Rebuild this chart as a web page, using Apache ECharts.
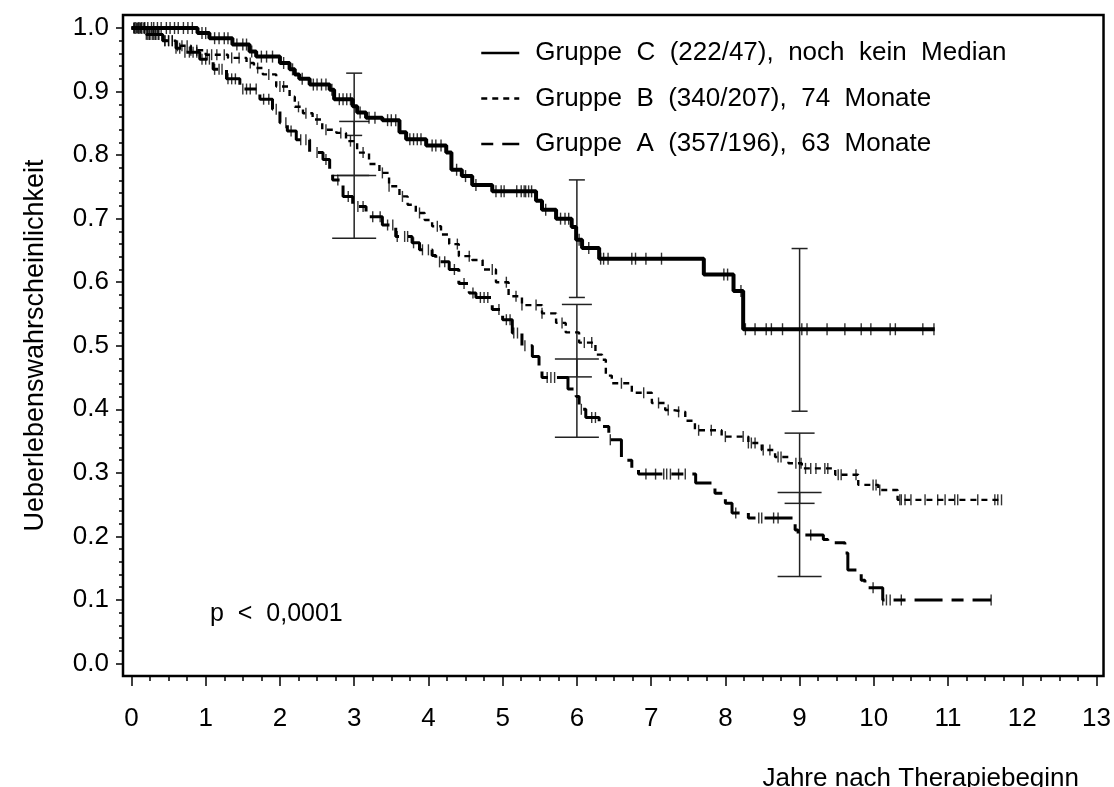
<!DOCTYPE html>
<html>
<head>
<meta charset="utf-8">
<script src="https://cdn.jsdelivr.net/npm/echarts@6/dist/echarts.min.js"></script>
<style>
  html, body { margin: 0; padding: 0; background: #fff; }
  #chart { width: 1114px; height: 787px; }
</style>
</head>
<body>
<div id="chart"></div>
<script>
// Kaplan-Meier Schätzer
const nameC = 'Gruppe C (222/47), noch kein Median';
const nameB = 'Gruppe B (340/207), 74 Monate';
const nameA = 'Gruppe A (357/196), 63 Monate';

const timeC = [0, 0.89, 1.05, 1.36, 1.59, 1.68, 2.0, 2.13, 2.2, 2.26, 2.4, 2.67, 2.73, 2.98, 3.04, 3.16, 3.38,
  3.61, 3.7, 3.97, 4.24, 4.31, 4.45, 4.59, 4.86, 5.45, 5.53, 5.72, 5.93, 5.99, 6.07, 6.3, 7.71, 8.11, 8.24, 10.82];
const survC = [1.0, 0.992, 0.984, 0.974, 0.963, 0.955, 0.945, 0.935, 0.927, 0.92, 0.911, 0.903, 0.888, 0.877, 0.867, 0.859, 0.855,
  0.836, 0.825, 0.815, 0.804, 0.777, 0.767, 0.753, 0.743, 0.728, 0.714, 0.7, 0.687, 0.667, 0.654, 0.637, 0.612, 0.586, 0.526, 0.526];

const timeB = [0, 0.2, 0.42, 0.6, 0.8, 1.0, 1.3, 1.55, 1.65, 1.77, 1.95, 2.13, 2.2, 2.31, 2.44, 2.57, 2.76, 2.89, 3.04, 3.2,
  3.34, 3.47, 3.61, 3.72, 3.83, 3.95, 4.05, 4.17, 4.28, 4.41, 4.59, 4.73, 4.91, 5.08, 5.26, 5.53, 5.72, 5.85, 6.03, 6.25,
  6.34, 6.39, 6.47, 6.74, 7.01, 7.19, 7.28, 7.46, 7.59, 7.95, 8.31, 8.49, 8.67, 8.85, 9.03, 9.48, 9.79, 10.06, 10.32, 11.72];
const survB = [1.0, 0.99, 0.98, 0.972, 0.965, 0.958, 0.953, 0.945, 0.937, 0.927, 0.908, 0.892, 0.876, 0.866, 0.856, 0.84,
  0.835, 0.822, 0.804, 0.786, 0.772, 0.751, 0.735, 0.722, 0.709, 0.698, 0.688, 0.675, 0.66, 0.641, 0.635, 0.62, 0.6, 0.578,
  0.564, 0.551, 0.536, 0.521, 0.505, 0.486, 0.478, 0.453, 0.441, 0.426, 0.41, 0.399, 0.396, 0.382, 0.367, 0.357, 0.347,
  0.336, 0.325, 0.315, 0.307, 0.297, 0.281, 0.273, 0.2575, 0.2575];

const timeA = [0, 0.2, 0.42, 0.6, 0.7, 0.92, 1.1, 1.28, 1.46, 1.73, 1.9, 2.0, 2.1, 2.22, 2.4, 2.58, 2.67, 2.71, 2.85, 2.98,
  3.16, 3.38, 3.56, 3.78, 3.88, 4.05, 4.1, 4.28, 4.41, 4.55, 4.64, 4.86, 5.0, 5.13, 5.26, 5.4, 5.49, 5.53, 5.88, 5.99,
  6.03, 6.12, 6.3, 6.43, 6.6, 6.74, 6.83, 7.6, 7.86, 8.0, 8.09, 8.31, 8.94, 8.98, 9.32, 9.38, 9.61, 9.65, 9.83, 9.88,
  10.12, 11.58];
const survA = [1.0, 0.99, 0.98, 0.968, 0.962, 0.951, 0.935, 0.92, 0.904, 0.888, 0.872, 0.851, 0.838, 0.824, 0.804, 0.793,
  0.772, 0.761, 0.735, 0.719, 0.703, 0.69, 0.672, 0.662, 0.651, 0.642, 0.632, 0.62, 0.598, 0.583, 0.576, 0.557, 0.541,
  0.52, 0.5, 0.483, 0.467, 0.45, 0.432, 0.42, 0.4, 0.387, 0.373, 0.352, 0.32, 0.305, 0.298, 0.284, 0.268, 0.252, 0.237,
  0.229, 0.21, 0.202, 0.195, 0.19, 0.174, 0.147, 0.131, 0.119, 0.1, 0.1];

// zensierte Beobachtungen (Zeitpunkte)
const censC = [0.05, 0.1, 0.14, 0.18, 0.22, 0.27, 0.3, 0.35, 0.4, 0.47, 0.52, 0.58, 0.63, 0.7, 0.76, 0.82, 0.95, 1.0,
  1.12, 1.18, 1.25, 1.3, 1.42, 1.5, 1.55, 1.62, 1.75, 1.82, 1.9, 2.05, 2.17, 2.3, 2.45, 2.5, 2.56, 2.62, 2.7, 2.8, 2.85,
  2.9, 2.95, 3.08, 3.2, 3.28, 3.45, 3.5, 3.56, 3.75, 3.8, 3.85, 3.9, 4.05, 4.1, 4.17, 4.38, 4.5, 4.64, 4.91, 4.98, 5.02,
  5.19, 5.25, 5.29, 5.31, 5.35, 5.39, 5.58, 5.78, 5.84, 5.89, 6.03, 6.16, 6.32, 6.36, 6.42, 6.74, 6.79, 6.93, 7.14, 7.98,
  8.03, 8.21, 8.27, 8.4, 8.55, 8.62, 8.77, 9.03, 9.1, 9.37, 9.61, 9.83, 9.96, 10.22, 10.29, 10.66, 10.81];
const censB = [0.04, 0.08, 0.12, 0.17, 0.22, 0.25, 0.3, 0.33, 0.37, 0.45, 0.5, 0.55, 0.62, 0.68, 0.75, 0.8, 0.88, 1.02,
  1.08, 1.15, 1.25, 1.35, 1.45, 1.6, 1.7, 1.85, 2.0, 2.05, 2.25, 2.35, 2.5, 2.62, 2.82, 2.95, 3.12, 3.38, 3.47, 3.65, 3.88,
  4.12, 4.39, 4.55, 4.86, 5.05, 5.18, 5.26, 5.45, 5.53, 5.8, 6.1, 6.2, 6.6, 6.9, 7.1, 7.23, 7.37, 7.64, 7.81, 8.0, 8.24,
  8.31, 8.35, 8.4, 8.51, 8.6, 8.71, 8.75, 8.95, 9.02, 9.08, 9.15, 9.22, 9.34, 9.38, 9.52, 9.56, 9.76, 9.99, 10.03, 10.08,
  10.35, 10.37, 10.42, 10.5, 10.69, 10.86, 10.96, 11.09, 11.13, 11.4, 11.63, 11.67, 11.72];
const censA = [0.03, 0.07, 0.1, 0.13, 0.17, 0.2, 0.24, 0.28, 0.32, 0.36, 0.45, 0.5, 0.55, 0.6, 0.65, 0.72, 0.78, 0.83,
  0.88, 0.95, 1.0, 1.05, 1.12, 1.18, 1.22, 1.3, 1.35, 1.4, 1.5, 1.55, 1.6, 1.68, 1.78, 1.85, 1.95, 2.08, 2.15, 2.28, 2.35,
  2.5, 2.62, 2.78, 2.92, 3.05, 3.12, 3.25, 3.35, 3.45, 3.52, 3.58, 3.68, 3.72, 3.8, 3.92, 4.0, 4.15, 4.22, 4.35, 4.48,
  4.6, 4.7, 4.75, 4.8, 4.95, 5.05, 5.1, 5.15, 5.2, 5.3, 5.6, 5.65, 5.7, 6.06, 6.2, 6.25, 6.45, 6.93, 7.06, 7.17, 7.21,
  7.26, 7.37, 7.46, 8.14, 8.45, 8.49, 8.65, 8.71, 9.15, 9.99, 10.12, 10.17, 10.22, 10.37, 11.58];

// 95%-Konfidenzintervalle nach 3, 6 und 9 Jahren: [Jahr, unten, oben]
const ciC = [[3, 0.831, 0.929], [6, 0.576, 0.761], [9, 0.397, 0.653]];
const ciB = [[3, 0.768, 0.853], [6, 0.451, 0.565], [9, 0.252, 0.3625]];
const ciA = [[3, 0.669, 0.768], [6, 0.356, 0.479], [9, 0.137, 0.269]];

// Achsen
const xRange = [-0.114, 13.094];
const yRange = [-0.0197, 1.0205];
const xMajor = [0, 1, 2, 3, 4, 5, 6, 7, 8, 9, 10, 11, 12, 13];
const yMajor = [0, 0.1, 0.2, 0.3, 0.4, 0.5, 0.6, 0.7, 0.8, 0.9, 1.0];
const xMinor = [];
for (let i = 0; i < 13 * 4; i++) if (i % 4) xMinor.push(i / 4);
const yMinor = [];
for (let i = 0; i < 50; i++) if (i % 5) yMinor.push(i / 50);

const pText = 'p < 0,0001';
const xTitle = 'Jahre nach Therapiebeginn';
const yTitle = 'Ueberlebenswahrscheinlichkeit';

const FONT = '"Liberation Sans", Arial, sans-serif';
const wide = s => s.replace(/ /g, '  ');

function pairs(ts, ss) {
  return ts.map((t, i) => [t, ss[i]]);
}
function survAt(ts, ss, t) {
  let s = ss[0];
  for (let i = 0; i < ts.length; i++) {
    if (ts[i] <= t) s = ss[i];
  }
  return s;
}
function censored(ts, ss, cens) {
  return cens.map(t => [t, survAt(ts, ss, t)]);
}

function kmLine(name, ts, ss, width, dash) {
  return {
    name: name,
    type: 'line',
    step: 'end',
    symbol: 'none',
    z: 3,
    lineStyle: { color: '#000', width: width, type: dash },
    itemStyle: { color: '#000' },
    data: pairs(ts, ss),
  };
}
function censMarks(ts, ss, cens, h) {
  return {
    type: 'scatter',
    symbol: 'rect',
    symbolSize: [1.4, h],
    z: 4,
    itemStyle: { color: '#000' },
    silent: true,
    data: censored(ts, ss, cens),
  };
}
function ciBars(data, halfCap) {
  return {
    type: 'custom',
    z: 2,
    silent: true,
    renderItem(params, api) {
      const lo = api.coord([api.value(0), api.value(1)]);
      const hi = api.coord([api.value(0), api.value(2)]);
      const st = { stroke: '#222', lineWidth: 1.5 };
      return {
        type: 'group',
        children: [
          { type: 'line', shape: { x1: lo[0], y1: lo[1], x2: hi[0], y2: hi[1] }, style: st },
          { type: 'line', shape: { x1: lo[0] - halfCap, y1: lo[1], x2: lo[0] + halfCap, y2: lo[1] }, style: st },
          { type: 'line', shape: { x1: hi[0] - halfCap, y1: hi[1], x2: hi[0] + halfCap, y2: hi[1] }, style: st },
        ],
      };
    },
    data: data,
  };
}

function xAxisOf(ticks, len, labels) {
  return {
    type: 'value', min: xRange[0], max: xRange[1], position: 'bottom',
    axisLine: { show: false, onZero: false },
    splitLine: { show: false },
    axisTick: { show: true, inside: false, length: len, customValues: ticks, lineStyle: { color: '#000', width: 1.5 } },
    axisLabel: labels
      ? { show: true, customValues: ticks, fontFamily: FONT, fontSize: 26, color: '#000', margin: 30 }
      : { show: false },
  };
}
function yAxisOf(ticks, len, labels) {
  return {
    type: 'value', min: yRange[0], max: yRange[1], position: 'left',
    axisLine: { show: false, onZero: false },
    splitLine: { show: false },
    axisTick: { show: true, inside: false, length: len, customValues: ticks, lineStyle: { color: '#000', width: 1.5 } },
    axisLabel: labels
      ? { show: true, customValues: ticks, fontFamily: FONT, fontSize: 26, color: '#000', margin: 14, formatter: v => v.toFixed(1) }
      : { show: false },
  };
}

const yMain = yAxisOf(yMajor, 7, true);
Object.assign(yMain, {
  name: yTitle, nameLocation: 'middle', nameGap: 74, nameRotate: 90,
  nameTextStyle: { fontFamily: FONT, fontSize: 27, color: '#000' },
});

const chart = echarts.init(document.getElementById('chart'));
chart.setOption({
  animation: false,
  backgroundColor: '#fff',
  textStyle: { fontFamily: FONT, color: '#000' },
  grid: { left: 123, right: 8, top: 15, bottom: 111, show: true, borderColor: '#000', borderWidth: 2.5, backgroundColor: 'transparent' },
  title: [
    {
      text: xTitle, right: 30, top: 761,
      textStyle: { fontFamily: FONT, fontSize: 26, fontWeight: 'normal', color: '#000' },
    },
    {
      text: wide(pText), left: 205, top: 597,
      textStyle: { fontFamily: FONT, fontSize: 25, fontWeight: 'normal', color: '#000' },
    },
  ],
  legend: {
    left: 480, top: 37, orient: 'vertical', padding: 0,
    itemWidth: 38, itemHeight: 14, itemGap: 13.5,
    selectedMode: false,
    data: [nameC, nameB, nameA],
    formatter: wide,
    itemStyle: { opacity: 0 },
    lineStyle: { width: 2.5 },
    textStyle: { fontFamily: FONT, fontSize: 26, color: '#000', lineHeight: 27, padding: [5, 0, 0, 11] },
  },
  xAxis: [xAxisOf(xMajor, 10, true), xAxisOf(xMinor, 5, false)],
  yAxis: [yMain, yAxisOf(yMinor, 4, false)],
  series: [
    kmLine(nameC, timeC, survC, 4, 'solid'),
    kmLine(nameB, timeB, survB, 2.4, [6, 5]),
    kmLine(nameA, timeA, survA, 3, [12, 9, 28, 9]),
    censMarks(timeC, survC, censC, 12),
    censMarks(timeB, survB, censB, 11),
    censMarks(timeA, survA, censA, 11),
    ciBars(ciC, 8),
    ciBars(ciB, 15),
    ciBars(ciA, 22),
  ],
});
</script>
</body>
</html>
